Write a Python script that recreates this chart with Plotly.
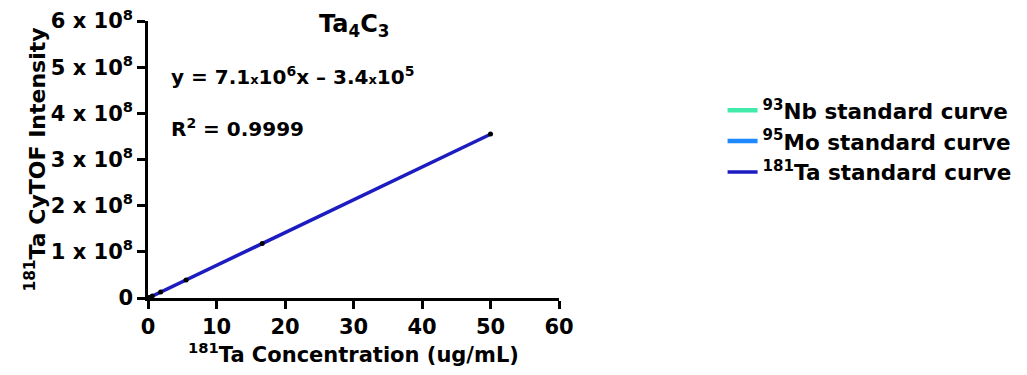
import plotly.graph_objects as go

# Ta standard curve: concentrations (ug/mL) and measured CyTOF intensities
conc = [0, 0.206, 0.617, 1.85, 5.56, 16.67, 50]
intensity = [0.0, 1.1e6, 4.1e6, 1.28e7, 3.9e7, 1.18e8, 3.55e8]

# linear fit parameters shown on the chart
slope = 7.1e6
intercept = -3.4e5
fit_x = [0, 50]

y_tickvals = [0, 1e8, 2e8, 3e8, 4e8, 5e8, 6e8]
y_ticktext = ["0", "1 x 10<sup>8</sup>", "2 x 10<sup>8</sup>", "3 x 10<sup>8</sup>",
              "4 x 10<sup>8</sup>", "5 x 10<sup>8</sup>", "6 x 10<sup>8</sup>"]
x_tickvals = [0, 10, 20, 30, 40, 50, 60]

legend_names = ["<sup>93</sup>Nb standard curve", "<sup>95</sup>Mo standard curve",
                "<sup>181</sup>Ta standard curve"]
legend_colors = ["#40EAAA", "#1E88FF", "#1C1CC0"]

FONT = "DejaVu Sans, Arial, sans-serif"


def bold_font(size):
    return dict(family=FONT, size=size, color="black", weight="bold")


fig = go.Figure()

# Nb and Mo curves appear only in the legend
for name, color in zip(legend_names[:2], legend_colors[:2]):
    fig.add_trace(go.Scatter(x=[None], y=[None], mode="lines", name=name,
                             line=dict(color=color, width=4.5)))

fit_y = [slope * v + intercept for v in fit_x]
fig.add_trace(go.Scatter(x=fit_x, y=fit_y, mode="lines", name=legend_names[2],
                         line=dict(color=legend_colors[2], width=3.5)))
fig.add_trace(go.Scatter(x=conc, y=intensity, mode="markers", showlegend=False,
                         marker=dict(color="black", size=5)))

axis_common = dict(showgrid=False, zeroline=False, showline=True, linecolor="black",
                   linewidth=2.5, ticks="outside", ticklen=8, tickwidth=2.5,
                   tickcolor="black", tickfont=bold_font(21))

fig.update_xaxes(range=[0, 60], tickvals=x_tickvals,
                 title=dict(text="<sup>181</sup>Ta Concentration (ug/mL)",
                            font=bold_font(21), standoff=4),
                 **axis_common)
fig.update_yaxes(range=[0, 6e8], tickvals=y_tickvals, ticktext=y_ticktext,
                 title=dict(text="<sup>181</sup>Ta CyTOF Intensity",
                            font=bold_font(22), standoff=0),
                 **axis_common)

fig.add_annotation(text="Ta<sub>4</sub>C<sub>3</sub>", xref="paper", yref="paper",
                   x=0.5, y=0.985, xanchor="center", yanchor="middle", showarrow=False,
                   font=bold_font(24))
fig.add_annotation(text="y = 7.1<span style='font-size:13px'>x</span>10<sup>6</sup>x – 3.4<span style='font-size:13px'>x</span>10<sup>5</sup>",
                   xref="paper", yref="paper", x=0.05, y=0.80, xanchor="left",
                   yanchor="middle", showarrow=False, font=bold_font(20))
fig.add_annotation(text="R<sup>2</sup> = 0.9999", xref="paper", yref="paper",
                   x=0.05, y=0.615, xanchor="left", yanchor="middle", showarrow=False,
                   font=bold_font(20))

fig.update_layout(
    width=1027, height=375,
    margin=dict(l=148, r=468, t=21, b=77, autoexpand=False),
    plot_bgcolor="white", paper_bgcolor="white",
    legend=dict(x=1.398, y=0.752, xanchor="left", yanchor="top",
                font=bold_font(21.5), itemwidth=30, tracegroupgap=0,
                bgcolor="rgba(0,0,0,0)"),
)

fig.write_html("out.html")
